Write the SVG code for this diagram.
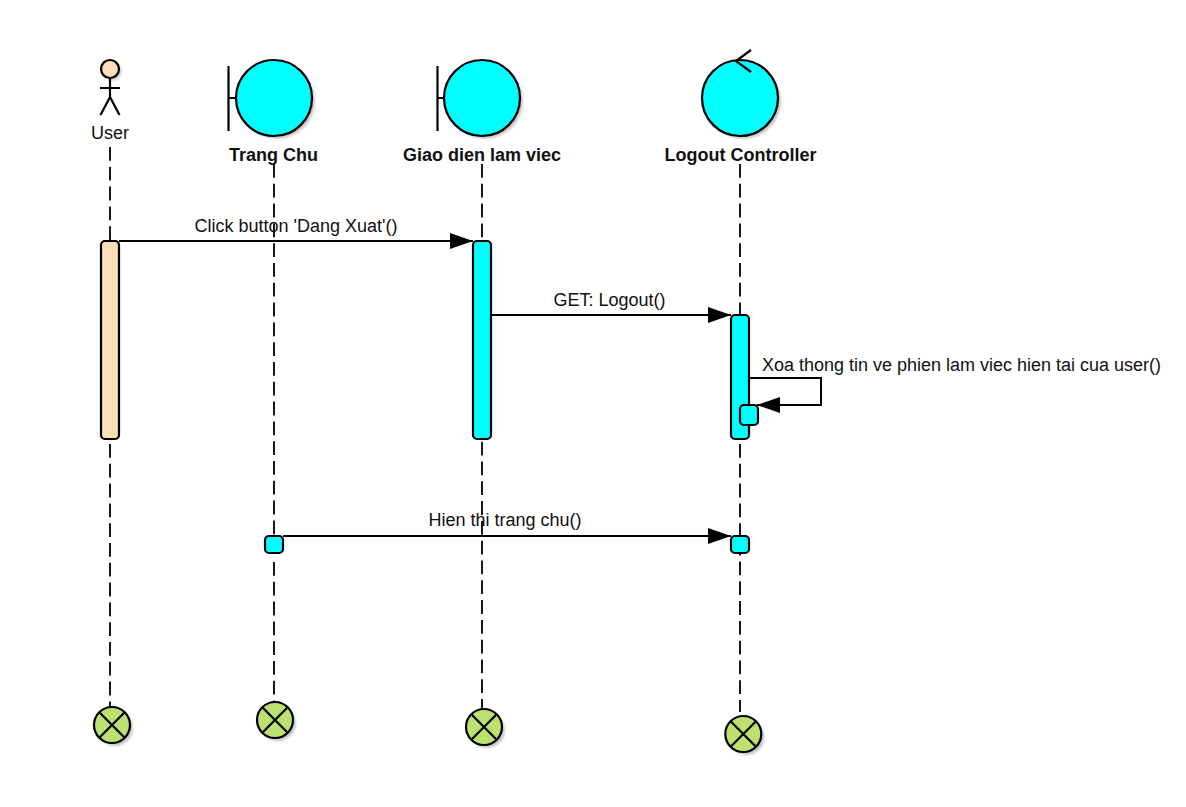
<svg xmlns="http://www.w3.org/2000/svg" width="1186" height="807" viewBox="0 0 1186 807">
<style>
text{font-family:"Liberation Sans",Arial,sans-serif;font-size:18px;fill:#111;text-anchor:middle}
.b{font-weight:bold}
.o{stroke:#000;stroke-width:2.200;fill:none}
.life{stroke:#000;stroke-width:1.800;stroke-dasharray:13.800 6;fill:none}
.msg{stroke:#000;stroke-width:2;fill:none}
.c{fill:#00ffff;stroke:#000;stroke-width:2.200}
.a{fill:#00ffff;stroke:#000;stroke-width:2.200}
.p{fill:#f9deb9;stroke:#000;stroke-width:2.200}
.e{fill:#bde071;stroke:#000;stroke-width:2.200}
.s{fill:#000;fill-opacity:.22;stroke:none;filter:url(#blur)}
</style>
<defs>
<marker id="ah" markerUnits="userSpaceOnUse" markerWidth="24" markerHeight="16" refX="23" refY="8" orient="auto"><path d="M0 0L23 8L0 16Z" fill="#000"/></marker>
<filter id="blur" x="-20%" y="-20%" width="140%" height="140%"><feGaussianBlur stdDeviation="1.200"/></filter>
</defs>
<g id="connectors">
<path class="life" d="M110 147V241M110 444V707"/>
<path class="life" d="M274 164V536M274 562V702"/>
<path class="life" d="M482 164V241M482 441.700V709"/>
<path class="life" d="M740 164V315M740 444V536M740 541.700V712"/>
<path class="msg" marker-end="url(#ah)" d="M119 241H473"/>
<path class="msg" marker-end="url(#ah)" d="M491 315H731"/>
<path class="msg" marker-end="url(#ah)" d="M749 378H821V405H757"/>
<path class="msg" marker-end="url(#ah)" d="M283 536H731"/>
<text x="296" y="232">Click button 'Dang Xuat'()</text>
<text x="609.500" y="306">GET: Logout()</text>
<text x="961.500" y="371">Xoa thong tin ve phien lam viec hien tai cua user()</text>
<text x="505" y="526">Hien thi trang chu()</text>
</g>
<g id="user">
<circle class="s" cx="112.500" cy="71.500" r="9"/>
<circle class="p" cx="110" cy="69" r="9"/>
<path class="o" d="M110 78V97M100 88H120M110 97L100.500 115M110 97L119.500 115"/>
<text x="110" y="139">User</text>
</g>
<g id="trang-chu">
<circle class="s" cx="277" cy="101" r="38"/>
<path class="o" d="M228.500 66V131M228.500 98H236"/>
<circle class="c" cx="274" cy="98" r="38"/>
<text class="b" x="273.500" y="161">Trang Chu</text>
</g>
<g id="giao-dien">
<circle class="s" cx="485" cy="101" r="38"/>
<path class="o" d="M437.500 66V131M437.500 98H444"/>
<circle class="c" cx="482" cy="98" r="38"/>
<text class="b" x="482" y="161">Giao dien lam viec</text>
</g>
<g id="logout-controller">
<circle class="s" cx="743" cy="101" r="38"/>
<circle class="c" cx="740" cy="98" r="38"/>
<path class="o" d="M751 50L736 61L751 72"/>
<text class="b" x="740.500" y="161">Logout Controller</text>
</g>
<g id="activations">
<rect class="p" x="101" y="241" width="18" height="198" rx="4"/>
<rect class="a" x="473" y="241" width="18" height="198" rx="4"/>
<rect class="a" x="731" y="315" width="18" height="124" rx="4"/>
<rect class="a" x="740" y="405" width="18" height="20" rx="4"/>
<rect class="a" x="265" y="536" width="18" height="17" rx="4"/>
<rect class="a" x="731" y="536" width="18" height="17" rx="4"/>
</g>
<g id="end-user"><circle class="s" cx="115" cy="728" r="18"/><circle class="e" cx="112" cy="725" r="18"/><path class="o" d="M99.300 712.300L124.700 737.700M124.700 712.300L99.300 737.700"/></g>
<g id="end-trang-chu"><circle class="s" cx="278" cy="723" r="18"/><circle class="e" cx="275" cy="720" r="18"/><path class="o" d="M262.300 707.300L287.700 732.700M287.700 707.300L262.300 732.700"/></g>
<g id="end-giao-dien"><circle class="s" cx="487" cy="730" r="18"/><circle class="e" cx="484" cy="727" r="18"/><path class="o" d="M471.300 714.300L496.700 739.700M496.700 714.300L471.300 739.700"/></g>
<g id="end-logout"><circle class="s" cx="746.300" cy="737" r="18"/><circle class="e" cx="743.300" cy="734" r="18"/><path class="o" d="M730.600 721.300L756 746.700M756 721.300L730.600 746.700"/></g>
</svg>
